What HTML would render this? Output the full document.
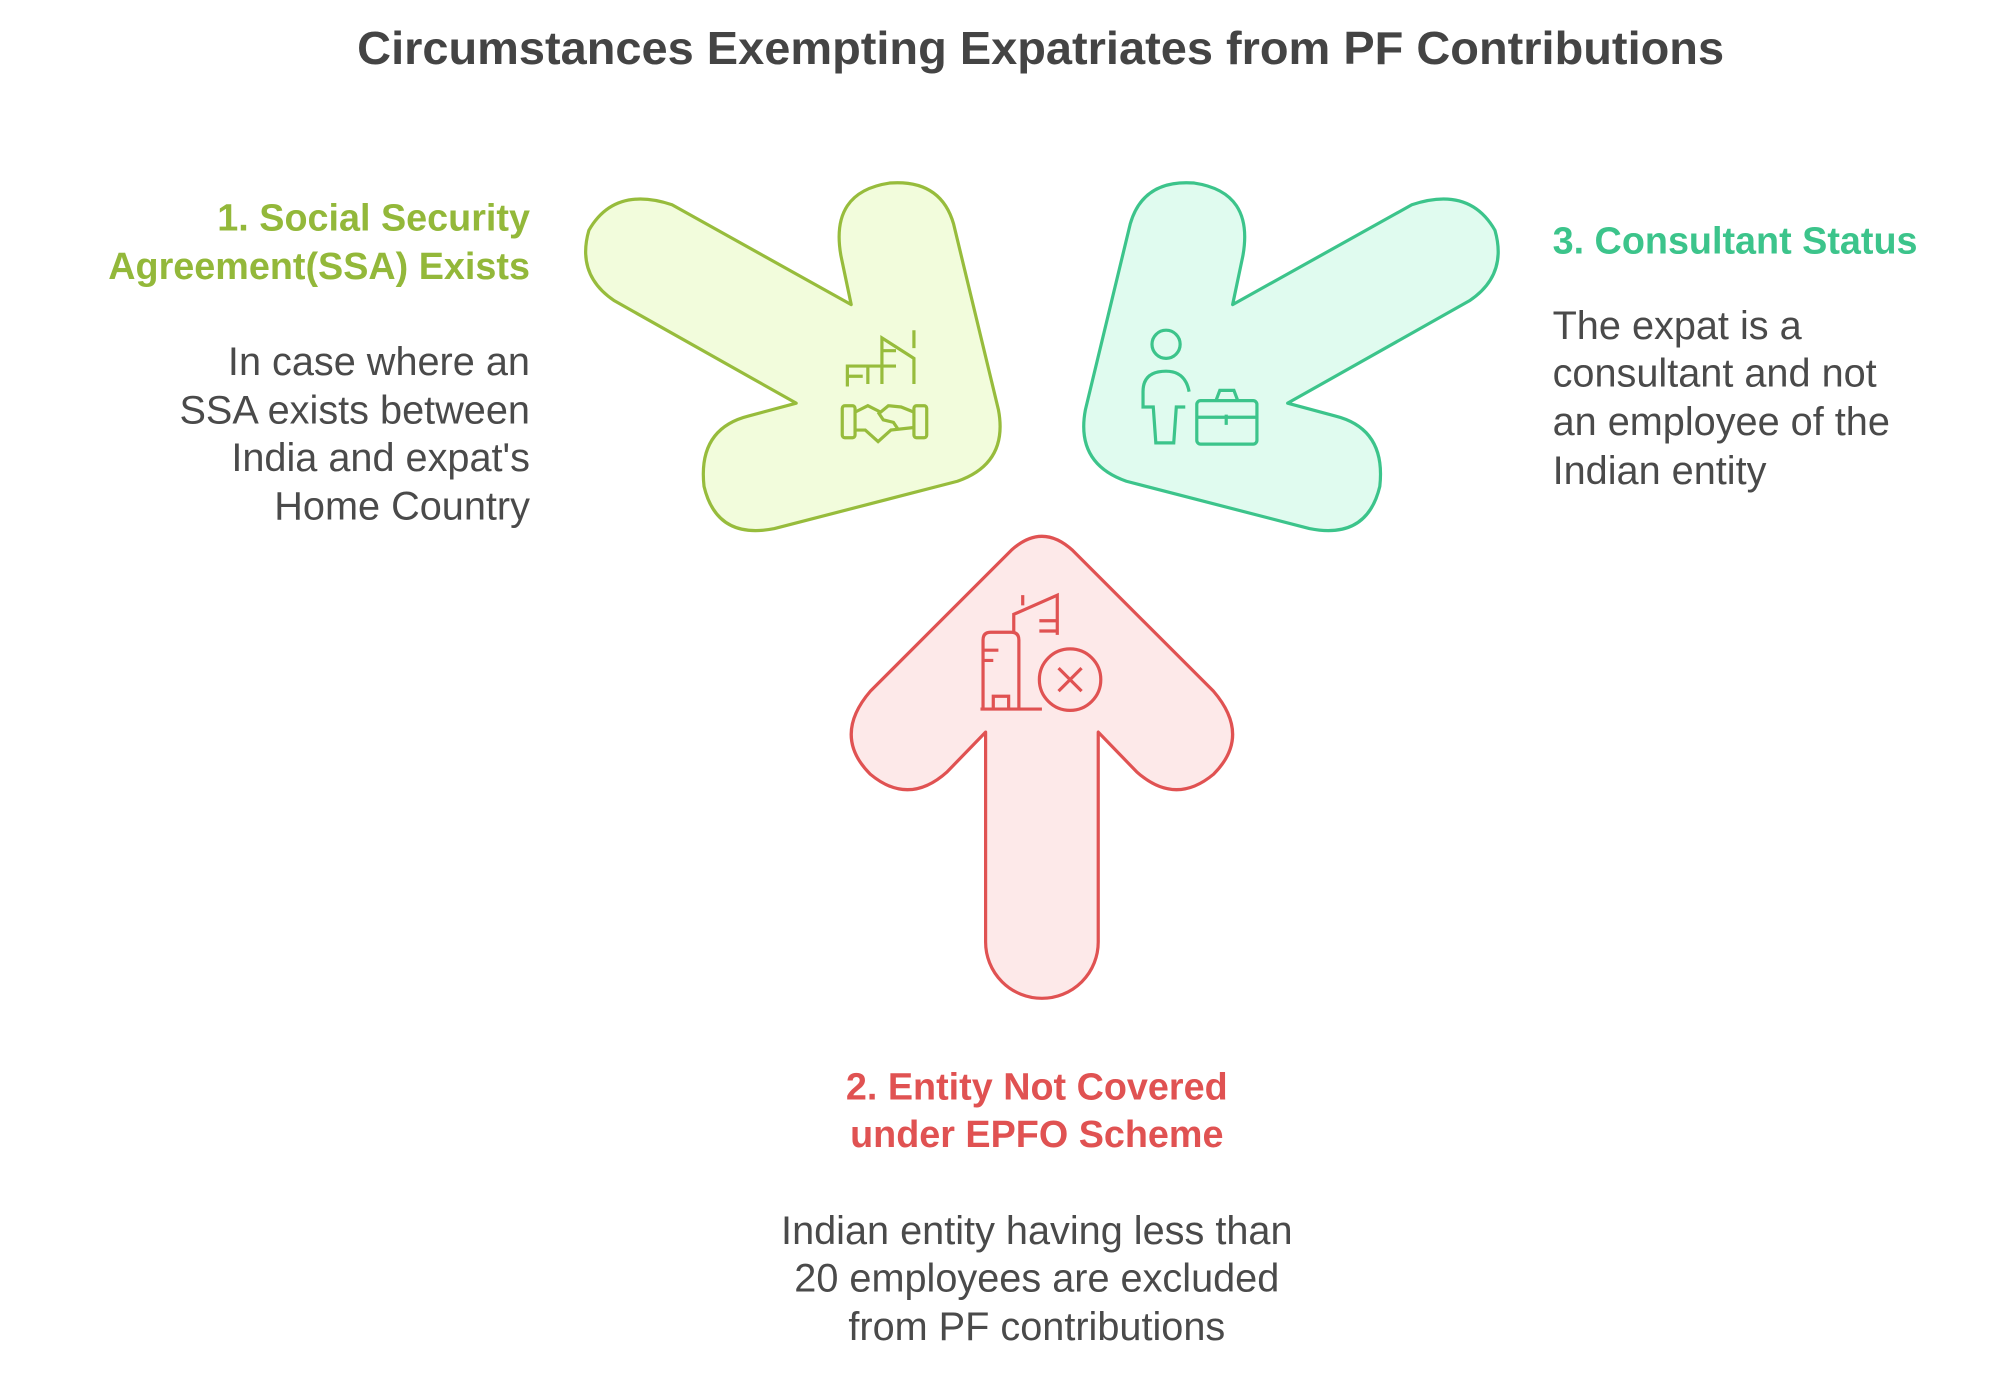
<!DOCTYPE html>
<html><head><meta charset="utf-8"><style>
html,body{margin:0;padding:0;background:#fff;}
svg{display:block;}
text{font-family:"Liberation Sans",Arial,sans-serif;}
</style></head><body>
<svg width="2000" height="1381" viewBox="0 0 1562.5 1079" xmlns="http://www.w3.org/2000/svg">
<rect width="1562.5" height="1079" fill="#fff"/>
<text x="813" y="50" text-anchor="middle" font-size="36" font-weight="bold" fill="#444" textLength="1068" lengthAdjust="spacingAndGlyphs">Circumstances Exempting Expatriates from PF Contributions</text>

<path d="M665,238 L657,200 Q648,150 695,143 Q735,140 745,175 L780,320 Q788,362 748,376 L605,413 Q560,422 550,380 Q545,335 585,325 L622,315 L480,235 Q450,215 460,180 Q480,145 525,160 Z" fill="#f2fcdc" stroke="#97bc3c" stroke-width="2.5" stroke-linejoin="round"/>
<g transform="translate(1628,0) scale(-1,1)">
<path d="M665,238 L657,200 Q648,150 695,143 Q735,140 745,175 L780,320 Q788,362 748,376 L605,413 Q560,422 550,380 Q545,335 585,325 L622,315 L480,235 Q450,215 460,180 Q480,145 525,160 Z" fill="#e0fbef" stroke="#3cc48b" stroke-width="2.5" stroke-linejoin="round"/>
</g>
<path d="M770,572 L740,603 Q710,630 680,605 Q650,575 680,540 L790,430 Q814,408 838,430 L948,540 Q978,575 948,605 Q918,630 888,603 L858,572 L858,736 A44,44 0 0 1 770,736 Z" fill="#fde9e9" stroke="#e05252" stroke-width="2.5" stroke-linejoin="round"/>

<g fill="none" stroke="#97bc3c" stroke-width="2.5">
<path d="M689,300 V264 L714,280 V300 M714,258 V272 M662,302 V286 H688 M662,294 H674 M678,286 V300 M689,274 H700 M689,286 H700"/>
<rect x="658" y="317" width="10" height="25" rx="2"/>
<rect x="714" y="317" width="10" height="25" rx="2"/>
<path d="M668,322 L678,317 L688,322 L694,317 L704,318 L714,322 M668,336 L676,336 L686,345 L696,336 L714,334 M686,322 L690,328 L698,330 L702,336"/>
</g>
<g fill="none" stroke="#3cc48b" stroke-width="2.5">
<circle cx="911" cy="269" r="11"/>
<path d="M929,306 Q926,290 911,290 Q893,290 893,306 V318 H901 L903,346 H917 L919,318 H926"/>
<rect x="935" y="313" width="47" height="34" rx="3"/>
<path d="M950,313 L953,305 H964 L967,313 M935,326 H982 M958,324 V332"/>
</g>
<g fill="none" stroke="#e05252" stroke-width="2.5">
<path d="M768,554 V500 Q768,494 774,494 H790 Q796,494 796,500 V554 M766,554 H814 M776,554 V544 H788 V554 M768,508 H780 M768,516 H776"/>
<path d="M792,494 V480 L826,465 V496 M799,473 V465 M812,485 H826 M812,493 H826"/>
<circle cx="836" cy="531" r="24"/>
<path d="M827,522 L845,540 M845,522 L827,540"/>
</g>

<g text-anchor="end">
<text x="414" y="180" fill="#93b83a" font-weight="bold" font-size="29.5">1. Social Security</text>
<text x="414" y="218" fill="#93b83a" font-weight="bold" font-size="29.5">Agreement(SSA) Exists</text>
<g font-size="31" fill="#4a4a4a">
<text x="414" y="293">In case where an</text>
<text x="414" y="331">SSA exists between</text>
<text x="414" y="368">India and expat's</text>
<text x="414" y="406">Home Country</text>
</g>
</g>
<g>
<text x="1213" y="198" fill="#3cc48b" font-weight="bold" font-size="29.5">3. Consultant Status</text>
<g font-size="31" fill="#4a4a4a">
<text x="1213" y="265">The expat is a</text>
<text x="1213" y="302">consultant and not</text>
<text x="1213" y="340">an employee of the</text>
<text x="1213" y="378">Indian entity</text>
</g>
</g>
<g text-anchor="middle">
<text x="810" y="859" fill="#e05252" font-weight="bold" font-size="29.5">2. Entity Not Covered</text>
<text x="810" y="896" fill="#e05252" font-weight="bold" font-size="29.5">under EPFO Scheme</text>
<g font-size="31" fill="#4a4a4a">
<text x="810" y="972">Indian entity having less than</text>
<text x="810" y="1009">20 employees are excluded</text>
<text x="810" y="1047">from PF contributions</text>
</g>
</g>
</svg>
</body></html>
